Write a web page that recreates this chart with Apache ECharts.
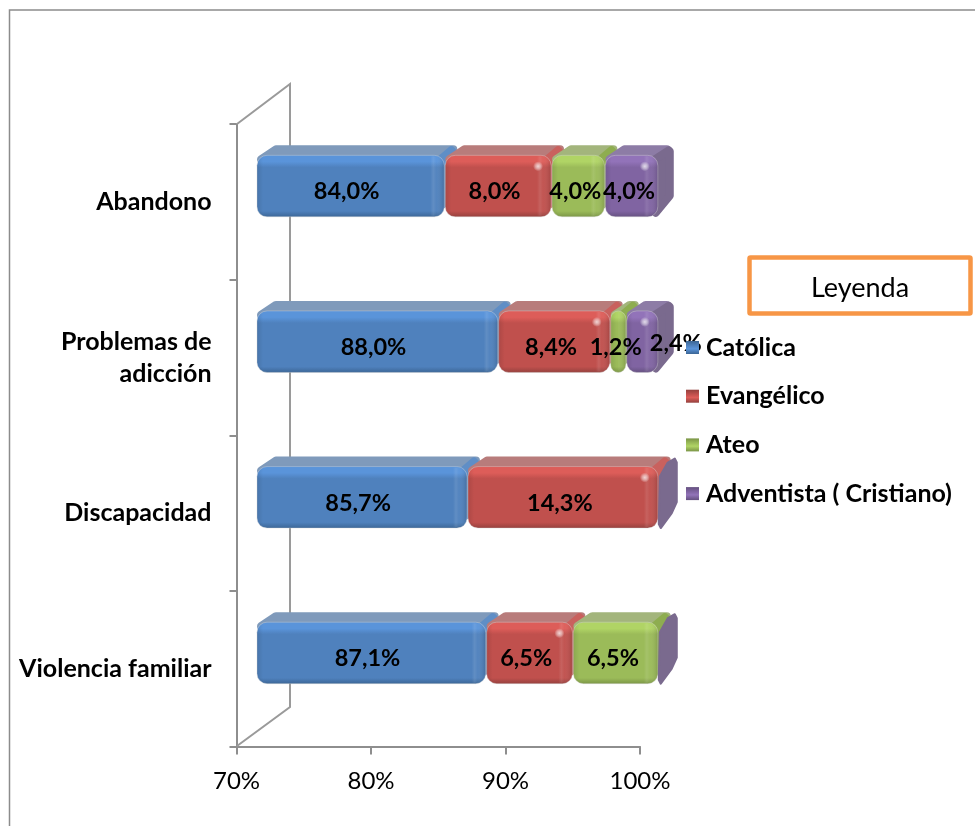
<!DOCTYPE html>
<html><head><meta charset="utf-8">
<style>html,body{margin:0;padding:0;background:#fff}#c{width:975px;height:826px}</style>
<script src="https://cdn.jsdelivr.net/npm/echarts@6/dist/echarts.min.js"></script>
</head><body><div id="c"></div>
<script>
const categories = ['Abandono', 'Problemas de\nadicción', 'Discapacidad', 'Violencia familiar'];
const seriesNames = ['Católica', 'Evangélico', 'Ateo', 'Adventista ( Cristiano)'];
const catolica = [84.0, 88.0, 85.7, 87.1];
const evangelico = [8.0, 8.4, 14.3, 6.5];
const ateo = [4.0, 1.2, 0, 6.5];
const adventista = [4.0, 2.4, 0, 0];
const xTicks = [70, 80, 90, 100];

const FONT = 'Lato';
const palettes = [
  {main:'#4F81BD', light:'#5A94DA', dark:'#3B6594', top:'#7F9ABB', side:'#5F8EC6'},
  {main:'#C0504D', light:'#DD5D59', dark:'#93403D', top:'#B87C7B', side:'#C9615E'},
  {main:'#9BBB59', light:'#B0D465', dark:'#7A9446', top:'#A3B57C', side:'#8EAD50'},
  {main:'#8064A2', light:'#9273B9', dark:'#64507F', top:'#8D7CA6', side:'#7A6A8E'}
];
const allValues = [catolica, evangelico, ateo, adventista];
const axisMin = xTicks[0], axisMax = xTicks[xTicks.length - 1];

function rows(vals, si) {
  return vals.map((v, i) => {
    let start = 0;
    for (let k = 0; k < si; k++) start += allValues[k][i];
    return [Math.min(start, axisMax), Math.min(start + v, axisMax), i, v];
  });
}
function vGrad(stops){return {type:'linear',x:0,y:0,x2:0,y2:1,colorStops:stops};}
function hGrad(stops){return {type:'linear',x:0,y:0,x2:1,y2:0,colorStops:stops};}

function makeRender(si) {
  const p = palettes[si];
  const isLast = si === allValues.length - 1;
  return function (params, api) {
    const val = api.value(3);
    if (!val && !isLast) return null;
    const s = Math.max(api.value(0), axisMin), e = Math.max(api.value(1), axisMin);
    const cat = api.value(2);
    const zero = api.coord([axisMin, cat]);
    const project = x => zero[0] + 20.5 + (x - zero[0]) * 0.992;
    const cy = zero[1];
    const x0 = project(api.coord([s, cat])[0]) + (si ? 1.5 : 0);
    const x1 = project(api.coord([e, cat])[0]) + 0.5;
    const top = cy - 46.5, h = 61.5, bot = top + h;
    const w = Math.max(x1 - x0, 0);
    const z = si * 10;
    const kids = [];
    if (val > 0) {
      // top face with rounded back corners
      kids.push({type:'polygon', z2:z, shape:{points:[[x0+4,top+4],[x0+19,top-6],[x1+9,top-6],[x1+4,top+4]]},
        style:{fill:p.top, stroke:p.top, lineWidth:8, lineJoin:'round'}});
    }
    // side face
    const sd = val > 0 ? (isLast ? 16 : 12) : 20;
    const sideBottom = isLast ? bot - 4 : bot - 12;
    const sidePts = val > 0
      ? [[x1-6,top+6],[x1+sd-5,top-5],[x1+sd-4,top-4],[x1+sd-4,bot-21],[x1-2,sideBottom]]
      : [[x1+2,top+10],[x1+10,top-4],[x1+sd-3,top-8],[x1+sd-1,top-4],[x1+sd-1,bot-26],[x1+sd-6,bot-15],[x1+3,bot],[x1+1,bot-4]];
    kids.push({type:'polygon', z2:z+1, shape:{points:sidePts},
      style:{fill:p.side, stroke:p.side, lineWidth:val>0?8:2, lineJoin:'round'}});
    if (val > 0) {
      // front face
      const r = Math.min(10, w / 2);
      kids.push({type:'rect', z2:z+2, shape:{x:x0,y:top,width:w,height:h,r:r},
        style:{fill:vGrad([{offset:0,color:p.light},{offset:.11,color:p.light},{offset:.2,color:p.main},{offset:.9,color:p.main},{offset:1,color:p.dark}]),
          stroke:'rgba(215,215,215,.4)', lineWidth:1}});
      kids.push({type:'rect', z2:z+3, shape:{x:x0,y:top+1,width:w,height:h-2,r:r},
        style:{fill:hGrad([{offset:0,color:'rgba(0,0,0,.10)'},{offset:Math.min(.5,6/w),color:'rgba(0,0,0,0)'},{offset:Math.max(.5,1-14/w),color:'rgba(255,255,255,0)'},{offset:Math.max(.5,1-11/w),color:'rgba(255,255,255,.10)'},{offset:Math.max(.5,1-8/w),color:'rgba(255,255,255,.03)'},{offset:1,color:'rgba(0,0,0,.14)'}])}});
      if ((si === 1 || si === 3) && w > 20) {
        kids.push({type:'circle', z2:z+4, shape:{cx:x1-13,cy:top+11,r:5},
          style:{fill:{type:'radial',x:.5,y:.5,r:.5,colorStops:[{offset:0,color:'rgba(255,255,255,.75)'},{offset:.5,color:'rgba(255,255,255,.45)'},{offset:1,color:'rgba(255,255,255,0)'}]}}});
      }
      // value label
      const nudge = (si === 3 && cat === 1) ? [36, -4] : [0, 0];
      kids.push({type:'text', z2:500, style:{
        x:(api.coord([s,cat])[0]+api.coord([e,cat])[0])/2+16+nudge[0], y:cy-10+nudge[1],
        text:val.toFixed(1).replace('.',',')+'%', fill:'#000', font:'bold 23.5px '+FONT,
        align:'center', verticalAlign:'middle'}});
    }
    return {type:'group', children:kids};
  };
}

const chart = echarts.init(document.getElementById('c'), null, {renderer:'canvas'});
const legendColors = palettes.map(p => vGrad([{offset:0,color:p.dark},{offset:.35,color:p.main},{offset:.6,color:p.light},{offset:1,color:p.dark}]));
chart.setOption({
  animation:false,
  backgroundColor:'#fff',
  grid:{left:236.5, right:975-640, top:124, bottom:826-746.5, containLabel:false},
  xAxis:{type:'value', min:axisMin, max:axisMax, interval:10, position:'bottom',
    axisLine:{show:true,lineStyle:{color:'#8E8E8E',width:2}},
    axisTick:{show:true,length:8,lineStyle:{color:'#8E8E8E',width:2}},
    splitLine:{show:false},
    axisLabel:{formatter:'{value}%',color:'#000',fontFamily:FONT,fontSize:24,margin:23}},
  yAxis:{type:'category', inverse:true, data:categories,
    axisLine:{show:true,lineStyle:{color:'#8E8E8E',width:2}},
    axisTick:{show:true,length:7,alignWithLabel:false,lineStyle:{color:'#8E8E8E',width:2}},
    axisLabel:{color:'#000',fontFamily:FONT,fontSize:25,fontWeight:'bold',margin:25,align:'right',lineHeight:32,padding:[3,0,0,0]}},
  legend:{orient:'vertical', left:681, top:330, itemWidth:13, itemHeight:13, itemGap:23.7, icon:'rect',
    selectedMode:false, z:10,
    textStyle:{color:'#000',fontFamily:FONT,fontSize:25,fontWeight:'bold',padding:[0,0,0,2],lineHeight:24},
    data:seriesNames.map((n,i)=>({name:n,itemStyle:{color:legendColors[i]}}))},
  series:allValues.map((vals,si)=>({
    type:'custom', name:seriesNames[si], coordinateSystem:'cartesian2d', z:3, clip:false,
    encode:{x:[0,1],y:2}, itemStyle:{color:palettes[si].main},
    data:rows(vals,si), renderItem:makeRender(si)})),
  graphic:[
    {type:'polyline', z:1, silent:true, shape:{points:[[237,124],[290,84],[290,707],[237,746]]},
      style:{fill:'none',stroke:'#9A9A9A',lineWidth:2}},
    {type:'polyline', z:1, silent:true, shape:{points:[[9.5,826],[9.5,10],[975,10]]},
      style:{fill:'none',stroke:'#8C8C8C',lineWidth:1.5}},
    {type:'rect', z:1, silent:true, shape:{x:749.5,y:257.5,width:221,height:56,r:1},
      style:{fill:'#fff',stroke:'#F79646',lineWidth:4.5}},
    {type:'text', z:2, silent:true, style:{x:860,y:288,text:'Leyenda',fill:'#000',font:'27px '+FONT,align:'center',verticalAlign:'middle'}}
  ]
});
</script></body></html>
